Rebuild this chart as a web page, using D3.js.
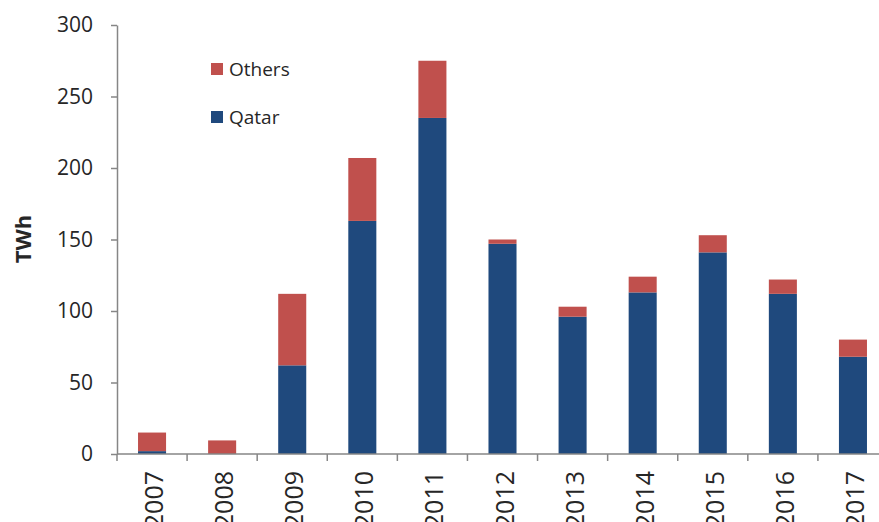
<!DOCTYPE html>
<html>
<head>
<meta charset="utf-8">
<script src="https://cdn.jsdelivr.net/npm/d3@7"></script>
<style>
  html, body { margin: 0; padding: 0; background: #fff; }
  svg { display: block; font-family: "Open Sans", sans-serif; }
</style>
</head>
<body>
<svg id="chart" width="879" height="522"></svg>
<script>
// LNG volumes by year, in TWh
const years = ["2007", "2008", "2009", "2010", "2011", "2012", "2013", "2014", "2015", "2016", "2017"];
const qatar = [2, 0, 62, 163, 235, 147, 96, 113, 141, 112, 68];
const others = [13, 9.5, 50, 44, 40, 3, 7, 11, 12, 10, 12];
const seriesNames = ["Qatar", "Others"];
const seriesColors = ["#1F497D", "#C0504D"];
const yTicks = [0, 50, 100, 150, 200, 250, 300];

const svg = d3.select("#chart");
const axisColor = "#868686";
const textColor = "#262626";

const x = d3.scaleBand()
  .domain(years)
  .range([117, 888])
  .paddingInner(0.6)
  .paddingOuter(0.3);

const y = d3.scaleLinear()
  .domain([0, 300])
  .range([454, 25]);

// Stack Qatar at the bottom, Others on top
const rows = years.map((yr, i) => ({ year: yr, Qatar: qatar[i], Others: others[i] }));
const stacked = d3.stack().keys(seriesNames)(rows);
const color = d3.scaleOrdinal().domain(seriesNames).range(seriesColors);

svg.append("g")
  .selectAll("g")
  .data(stacked)
  .join("g")
  .attr("fill", d => color(d.key))
  .selectAll("rect")
  .data(d => d.filter(p => p[1] - p[0] > 0))
  .join("rect")
  .attr("x", d => x(d.data.year))
  .attr("width", x.bandwidth())
  .attr("y", d => y(d[1]))
  .attr("height", d => y(d[0]) - y(d[1]));

// Y axis
const yAxis = svg.append("g")
  .attr("transform", "translate(117,0)")
  .call(d3.axisLeft(y).tickValues(yTicks).tickSize(6).tickPadding(18).tickSizeOuter(0));
yAxis.select(".domain").attr("stroke", axisColor).attr("stroke-width", 1.5);
yAxis.selectAll(".tick line").attr("stroke", axisColor).attr("stroke-width", 1.5);
yAxis.selectAll(".tick text")
  .attr("fill", textColor)
  .style("font-size", "21px")
  .style("font-family", "'Open Sans', sans-serif");

// X axis: ticks at category boundaries
const xAxisG = svg.append("g").attr("transform", "translate(0,454)");
xAxisG.append("line")
  .attr("x1", 117).attr("x2", 888)
  .attr("stroke", axisColor).attr("stroke-width", 1.5);
const step = x.step();
const boundaries = years.map(yr => x(yr) + x.bandwidth() / 2 - step / 2).concat([x(years[years.length - 1]) + x.bandwidth() / 2 + step / 2]);
xAxisG.selectAll("line.tk")
  .data(boundaries)
  .join("line")
  .attr("class", "tk")
  .attr("x1", d => d).attr("x2", d => d)
  .attr("y1", 0).attr("y2", 7)
  .attr("stroke", axisColor).attr("stroke-width", 1.5);
xAxisG.selectAll("text")
  .data(years)
  .join("text")
  .attr("transform", d => `translate(${x(d) + x.bandwidth() / 2 + 11},17) rotate(-90)`)
  .attr("text-anchor", "end")
  .attr("fill", textColor)
  .style("font-size", "25px")
  .text(d => d);

// Y axis title
svg.append("text")
  .attr("transform", "translate(31,239) rotate(-90)")
  .attr("text-anchor", "middle")
  .attr("fill", textColor)
  .style("font-size", "22px")
  .style("font-weight", "bold")
  .text("TWh");

// Legend
const legendItems = [
  { name: "Others", y: 63 },
  { name: "Qatar", y: 111 }
];
const legend = svg.append("g");
legend.selectAll("rect")
  .data(legendItems)
  .join("rect")
  .attr("x", 211).attr("y", d => d.y)
  .attr("width", 12).attr("height", 12)
  .attr("fill", d => color(d.name));
legend.selectAll("text")
  .data(legendItems)
  .join("text")
  .attr("x", 229).attr("y", d => d.y + 12.5)
  .attr("fill", textColor)
  .style("font-size", "19px")
  .text(d => d.name);
</script>
</body>
</html>
